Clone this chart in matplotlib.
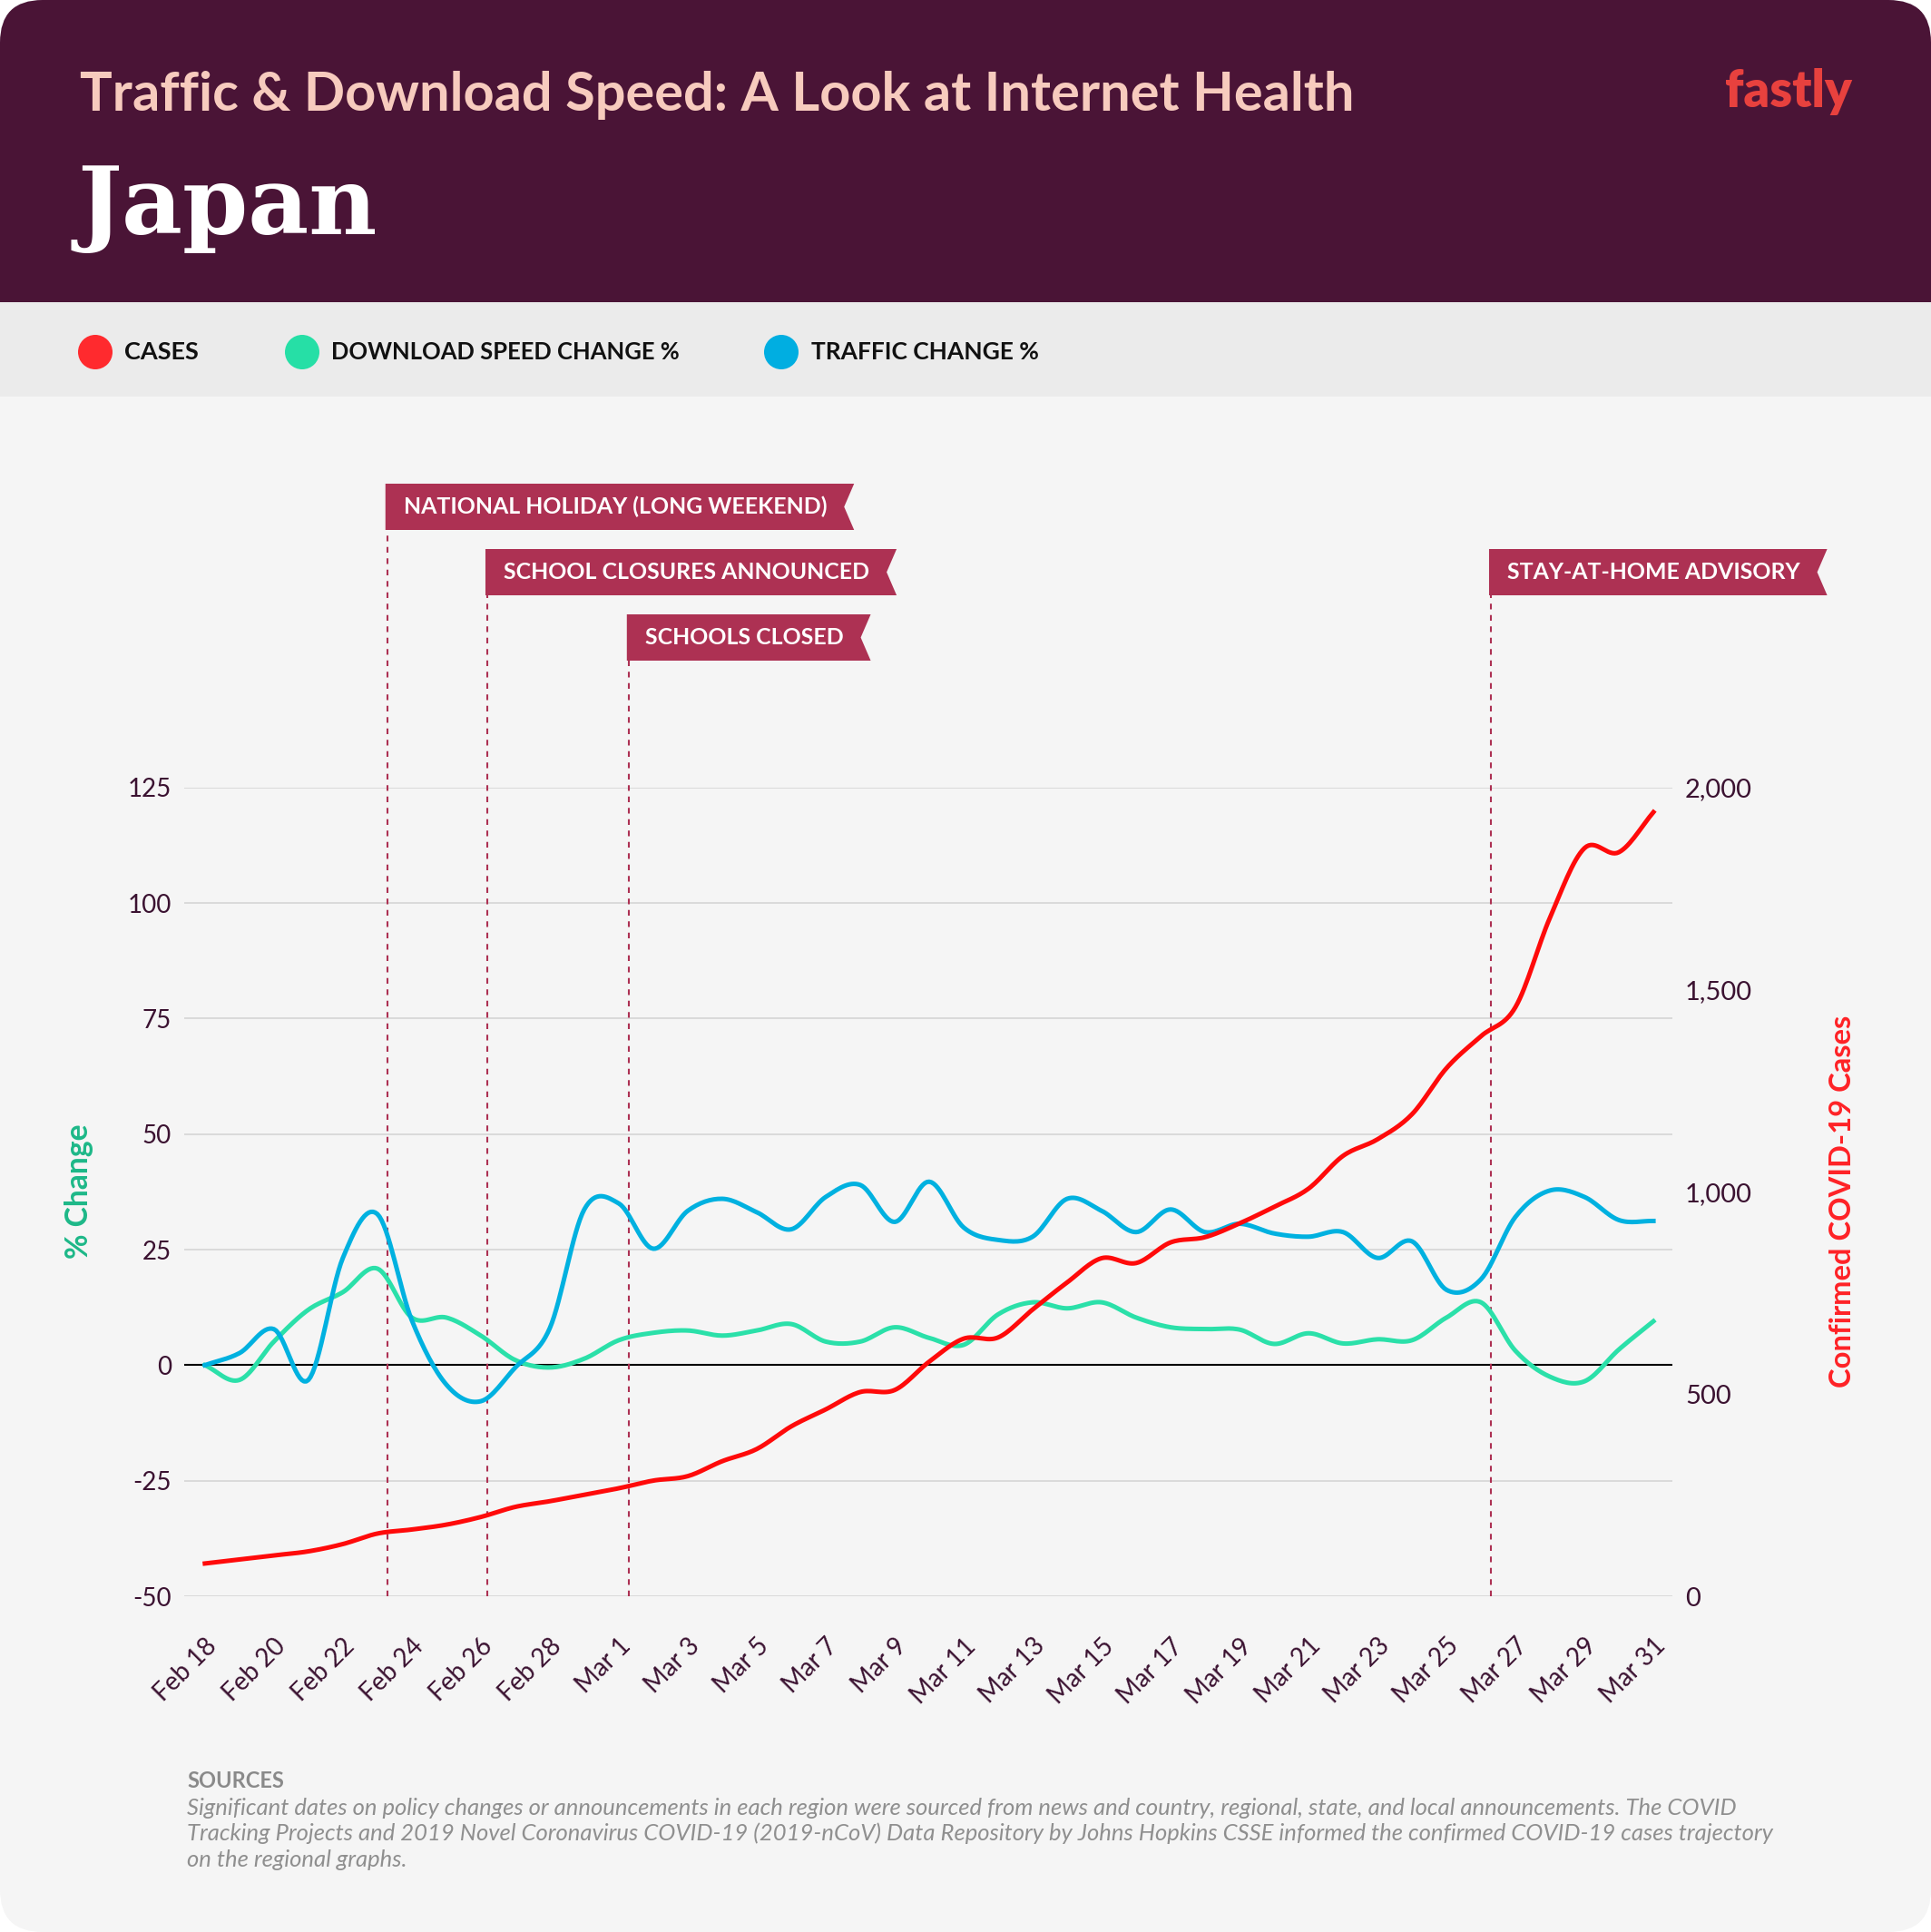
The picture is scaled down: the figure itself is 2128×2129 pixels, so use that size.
import matplotlib
matplotlib.use("Agg")
import matplotlib.pyplot as plt
import matplotlib.transforms as mtransforms
import numpy as np
from matplotlib.patches import Circle, FancyBboxPatch, Polygon, Rectangle
from matplotlib.ticker import FuncFormatter

plt.rcParams["font.family"] = ["Lato", "DejaVu Sans"]
plt.rcParams["axes.unicode_minus"] = False

W, H = 2128, 2129

# x categories: one point per day
DATES = [f"Feb {d}" for d in range(18, 30)] + [f"Mar {d}" for d in range(1, 32)]

# confirmed cases (right axis)
CASES = [81, 91, 101, 111, 129, 155, 165, 177, 196, 221, 235,
         251, 267, 286, 297, 334, 364, 420, 462, 505, 510, 580,
         637, 640, 709, 776, 836, 824, 875, 888, 922, 963, 1008,
         1089, 1130, 1192, 1306, 1385, 1457, 1678, 1850, 1840, 1939]

# % change (left axis)
DOWNLOAD = [0, -3.2, 5.1, 12.0, 15.8, 20.9, 10.3, 10.3, 6.4, 1.1, -0.5,
            1.4, 5.4, 7.0, 7.5, 6.4, 7.5, 8.9, 5.1, 5.1, 8.2, 5.9,
            4.4, 11.0, 13.6, 12.3, 13.6, 10.3, 8.2, 7.8, 7.7, 4.6, 6.9,
            4.7, 5.6, 5.4, 10.3, 13.6, 3.1, -2.5, -3.5, 3.4, 9.5]
TRAFFIC = [0, 2.6, 7.8, -3.2, 23.2, 32.7, 9.7, -4.2, -7.8, -0.5, 8.0,
           33.7, 35.0, 25.2, 33.4, 36.0, 33.1, 29.4, 36.4, 39.0, 31.0, 39.7,
           29.8, 27.1, 27.8, 36.0, 33.4, 28.8, 33.7, 28.8, 30.6, 28.5, 27.8,
           28.8, 23.2, 26.8, 16.3, 18.6, 32.1, 37.8, 36.4, 31.4, 31.2]

LEFT_TICKS = [-50, -25, 0, 25, 50, 75, 100, 125]
RIGHT_TICKS = [0, 500, 1000, 1500, 2000]

EVENTS = ["NATIONAL HOLIDAY (LONG WEEKEND)", "SCHOOL CLOSURES ANNOUNCED",
          "SCHOOLS CLOSED", "STAY-AT-HOME ADVISORY"]
EVENT_DAYS = [5.3, 8.2, 12.3, 37.3]
EVENT_ROWS = [0, 1, 2, 1]

SOURCES = [
    "Significant dates on policy changes or announcements in each region were sourced from news and country, regional, state, and local announcements. The COVID",
    "Tracking Projects and 2019 Novel Coronavirus COVID-19 (2019-nCoV) Data Repository by Johns Hopkins CSSE informed the confirmed COVID-19 cases trajectory",
    "on the regional graphs.",
]

PLUM = "#4A1436"
RED = "#FF0A0A"
GREEN = "#2BE0A9"
BLUE = "#00B1E0"
FLAG = "#AD3153"
TICK = "#3B1231"


def smooth(values, n=16):
    # cardinal (catmull-rom) curve through the daily values, for drawing only
    y = np.asarray(values, dtype=float)
    t = np.empty_like(y)
    t[1:-1] = (y[2:] - y[:-2]) / 2
    t[0] = y[1] - y[0]
    t[-1] = y[-1] - y[-2]
    xs, ys = [], []
    s = np.linspace(0, 1, n, endpoint=False)
    h00 = 2 * s**3 - 3 * s**2 + 1
    h10 = s**3 - 2 * s**2 + s
    h01 = -2 * s**3 + 3 * s**2
    h11 = s**3 - s**2
    for i in range(len(y) - 1):
        xs.append(i + s)
        ys.append(h00 * y[i] + h10 * t[i] + h01 * y[i + 1] + h11 * t[i + 1])
    xs.append([len(y) - 1])
    ys.append([y[-1]])
    return np.concatenate(xs), np.concatenate(ys)


def fx(px):
    return px / W


def fy(py):
    return 1 - py / H


fig = plt.figure(figsize=(W / 100, H / 100), dpi=100)
fig.patch.set_facecolor("white")
renderer = fig.canvas.get_renderer()


def fit(txt, width, vertical=False):
    ext = txt.get_window_extent(renderer)
    w = ext.height if vertical else ext.width
    txt.set_fontsize(txt.get_fontsize() * width / w)


# card background, header and legend band
fig.add_artist(FancyBboxPatch((0, 0), 1, 1, boxstyle="round,pad=0,rounding_size=0.022",
                              transform=fig.transFigure, fc="#F5F5F5", ec="none", zorder=-10))
fig.add_artist(FancyBboxPatch((0, fy(333)), 1, 333 / H, boxstyle="round,pad=0,rounding_size=0.022",
                              transform=fig.transFigure, fc=PLUM, ec="none", zorder=-9))
fig.add_artist(Rectangle((0, fy(333)), 1, 0.05, transform=fig.transFigure, fc=PLUM, ec="none", zorder=-9))
fig.add_artist(Rectangle((0, fy(437)), 1, 104 / H, transform=fig.transFigure, fc="#EBEBEB", ec="none", zorder=-8))

title = fig.text(fx(88), fy(122), "Traffic & Download Speed: A Look at Internet Health",
                 color="#F7CBBE", fontsize=40, fontweight="bold", va="baseline")
fit(title, 1402)
country = fig.text(fx(86), fy(258), "Japan", color="white", fontsize=80, fontweight="bold",
                   family="DejaVu Serif", va="baseline")
fit(country, 330)
logo = fig.text(fx(1901), fy(118), "fastly", color="#E8413E", fontsize=40, fontweight="heavy",
                va="baseline")
fit(logo, 140)

# legend
for label, color, cx, tx, tw in [("CASES", "#FF2A2E", 105, 137, 82),
                                 ("DOWNLOAD SPEED CHANGE %", "#26DFA6", 333, 365, 383),
                                 ("TRAFFIC CHANGE %", "#00AEE1", 861, 894, 251)]:
    fig.add_artist(Circle((fx(cx), fy(388)), 19 / W, transform=fig.transFigure, fc=color, ec="none"))
    lt = fig.text(fx(tx), fy(388), label, fontsize=17, fontweight="bold", color="#111111", va="center")
    fit(lt, tw)

# main chart
ax = fig.add_axes([fx(203), fy(1759), 1640 / W, 891.2 / H])
ax.patch.set_visible(False)
for sp in ax.spines.values():
    sp.set_visible(False)
x = np.arange(len(DATES))
ax.set_xlim(-0.6, 42.55)
ax.set_ylim(-50, 125)
ax.set_yticks(LEFT_TICKS)
ax.grid(axis="y", color="#DADADA", lw=1.4)
ax.set_axisbelow(True)
ax.axhline(0, color="black", lw=1.5, zorder=1.6)
ax.set_xticks(x[::2])
ax.set_xticklabels(DATES[::2], rotation=45, ha="right", va="top", rotation_mode="anchor")
ax.tick_params(axis="both", length=0, labelsize=20, labelcolor=TICK)
ax.tick_params(axis="y", pad=10)
ax.tick_params(axis="x", pad=30)

sx, sy = smooth(DOWNLOAD)
ax.plot(sx, sy, color=GREEN, lw=3.6, zorder=3)
sx, sy = smooth(TRAFFIC)
ax.plot(sx, sy, color=BLUE, lw=3.6, zorder=4)

ax2 = ax.twinx()
ax2.patch.set_visible(False)
for sp in ax2.spines.values():
    sp.set_visible(False)
ax2.set_ylim(0, 2000)
ax2.set_yticks(RIGHT_TICKS)
ax2.yaxis.set_major_formatter(FuncFormatter(lambda v, p: f"{int(v):,}"))
ax2.tick_params(axis="y", length=0, labelsize=21, labelcolor=TICK, pad=10)
sx, sy = smooth(CASES)
ax2.plot(sx, sy, color=RED, lw=3.6, zorder=3)

yl = fig.text(fx(87), fy(1313), "% Change", rotation=90, ha="center", va="center",
              color="#1DB888", fontsize=20, fontweight="bold")
fit(yl, 149, vertical=True)
yr = fig.text(fx(2030), fy(1324), "Confirmed COVID-19 Cases", rotation=90, ha="center", va="center",
              color="#FF2226", fontsize=22, fontweight="bold")
fit(yr, 411, vertical=True)

# event flags with dashed markers
fig.canvas.draw()
blend = mtransforms.blended_transform_factory(ax.transData, ax.transAxes)
flag_size = None
for label, day, row in zip(EVENTS, EVENT_DAYS, EVENT_ROWS):
    top = 533 + 72 * row
    bottom = top + 51
    lx = ax.transData.transform((day, 0))[0]
    left = lx - 2.5
    t = fig.text(fx(left + 20), fy((top + bottom) / 2), label, color="white", fontsize=16,
                 fontweight="bold", va="center", zorder=6)
    if flag_size is None:
        fit(t, 466)
        flag_size = t.get_fontsize()
    t.set_fontsize(flag_size)
    right = t.get_window_extent(renderer).x1 + 30
    pts = [(left, top), (right, top), (right - 11, (top + bottom) / 2), (right, bottom), (left, bottom)]
    fig.add_artist(Polygon([(fx(px), fy(py)) for px, py in pts], closed=True,
                           transform=fig.transFigure, fc=FLAG, ec="none", zorder=5))
    ax.plot([day, day], [0, (1759 - bottom) / 891.2], transform=blend, clip_on=False,
            color=FLAG, lw=1.5, ls=(0, (3, 3)), zorder=2)

# sources
fig.text(fx(206), fy(1970), "SOURCES", color="#8A8A8A", fontsize=17, fontweight="bold", va="baseline")
src = []
for i, line in enumerate(SOURCES):
    src.append(fig.text(fx(206), fy(2000 + 28.5 * i), line, color="#8F8F8F", fontsize=15,
                        style="italic", va="baseline"))
fit(src[0], 1713)
for t in src[1:]:
    t.set_fontsize(src[0].get_fontsize())

fig.savefig("out.png", dpi=100, facecolor=fig.get_facecolor())
